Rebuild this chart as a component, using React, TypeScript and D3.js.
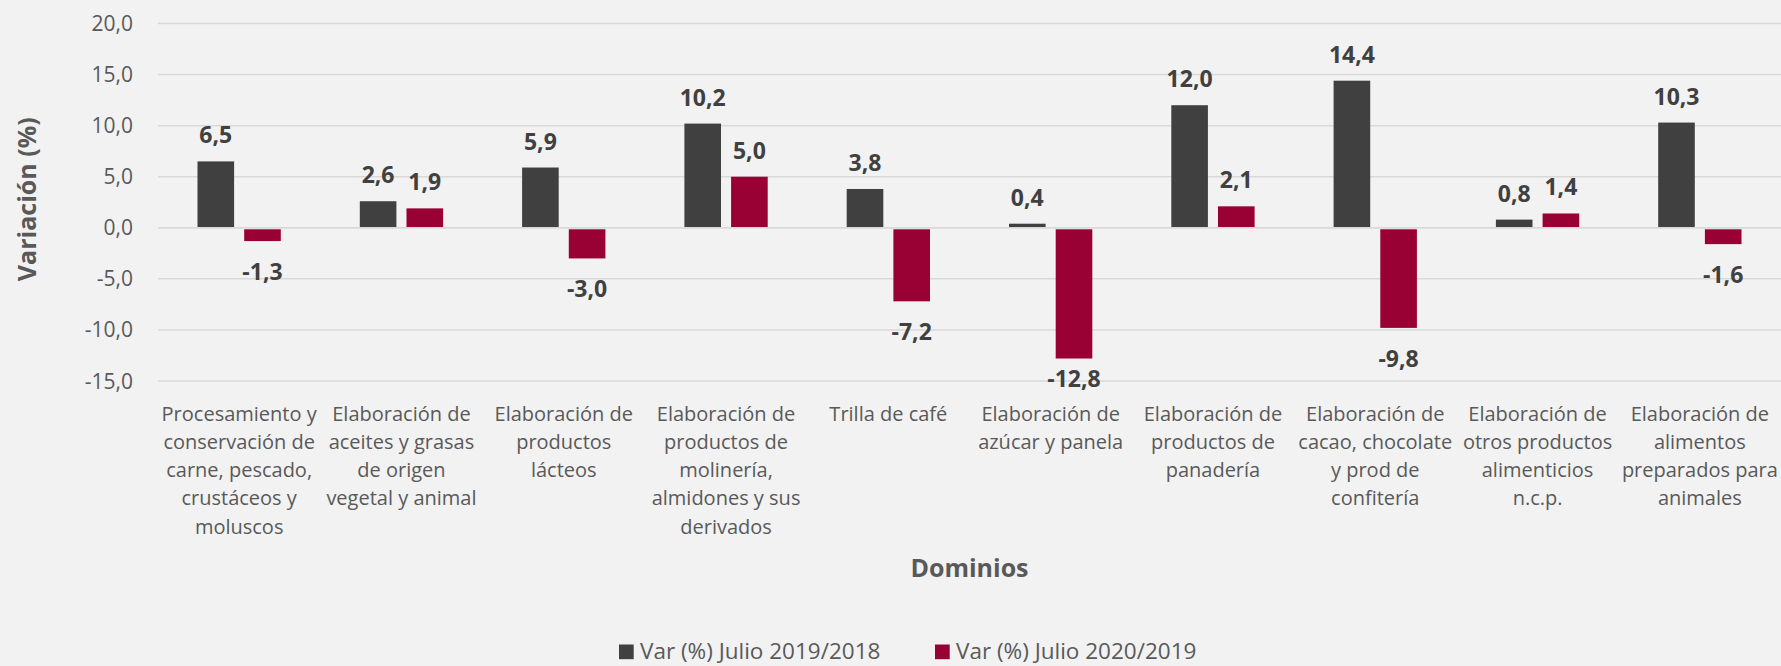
import * as d3 from "d3";
import React from "react";

// datos
const categorias = [
  ["Procesamiento y", "conservación de", "carne, pescado,", "crustáceos y", "moluscos"],
  ["Elaboración de", "aceites y grasas", "de origen", "vegetal y animal"],
  ["Elaboración de", "productos", "lácteos"],
  ["Elaboración de", "productos de", "molinería,", "almidones y sus", "derivados"],
  ["Trilla de café"],
  ["Elaboración de", "azúcar y panela"],
  ["Elaboración de", "productos de", "panadería"],
  ["Elaboración de", "cacao, chocolate", "y prod de", "confitería"],
  ["Elaboración de", "otros productos", "alimenticios", "n.c.p."],
  ["Elaboración de", "alimentos", "preparados para", "animales"],
];
const var2019 = [6.5, 2.6, 5.9, 10.2, 3.8, 0.4, 12.0, 14.4, 0.8, 10.3];
const var2020 = [-1.3, 1.9, -3.0, 5.0, -7.2, -12.8, 2.1, -9.8, 1.4, -1.6];
const series = ["Var (%) Julio 2019/2018", "Var (%) Julio 2020/2019"];
const ticksY = [-15, -10, -5, 0, 5, 10, 15, 20];

const width = 1781;
const height = 666;
const colores = ["#404040", "#990033"];
const fuente = "'Open Sans', 'Noto Sans', sans-serif";

const fmt = (v: number) => d3.format(".1f")(v).replace(".", ",").replace("−", "-");

export default function App() {
  const x0 = d3
    .scaleBand<number>()
    .domain(d3.range(categorias.length))
    .range([158, 1781])
    .paddingInner(0)
    .paddingOuter(0);

  // posición de las dos barras dentro de cada categoría
  const x1 = d3
    .scaleBand<number>()
    .domain([0, 1])
    .range([39.5, x0.bandwidth() - 39.5])
    .paddingInner(0.216);

  const y = d3.scaleLinear().domain([-15, 20]).range([381, 23.5]);

  const valores = [var2019, var2020];

  return (
    <div style={{ position: "absolute", left: 0, top: 0 }}>
      <svg width={width} height={height} style={{ display: "block", fontFamily: fuente }}>
        <rect x={0} y={0} width={width} height={height} fill="#f2f2f2" />

        {/* líneas de cuadrícula */}
        {ticksY.map((t) => (
          <line
            key={"g" + t}
            x1={158}
            x2={1781}
            y1={y(t)}
            y2={y(t)}
            stroke="#d9d9d9"
            strokeWidth={1.5}
          />
        ))}

        {/* etiquetas del eje y */}
        {ticksY.map((t) => (
          <text
            key={"t" + t}
            x={133}
            y={y(t)}
            dy="0.36em"
            textAnchor="end"
            fontSize={21}
            fill="#595959"
          >
            {fmt(t)}
          </text>
        ))}

        {/* barras */}
        {valores.map((serie, s) =>
          serie.map((v, i) => {
            const bx = (x0(i) as number) + (x1(s) as number);
            const top = v >= 0 ? y(v) : y(0) + 1.5;
            const h = v >= 0 ? y(0) - y(v) : y(v) - y(0) - 1.5;
            return (
              <rect
                key={"b" + s + "-" + i}
                x={bx}
                y={top}
                width={x1.bandwidth()}
                height={h}
                fill={colores[s]}
              />
            );
          })
        )}

        <line x1={158} x2={1781} y1={y(0)} y2={y(0)} stroke="#d9d9d9" strokeWidth={1.5} />

        {/* etiquetas de datos */}
        {valores.map((serie, s) =>
          serie.map((v, i) => {
            const cx = (x0(i) as number) + (x1(s) as number) + x1.bandwidth() / 2;
            const ly = v >= 0 ? y(v) - 18 : Math.min(y(v) + 39, 387);
            return (
              <text
                key={"l" + s + "-" + i}
                x={cx}
                y={ly}
                textAnchor="middle"
                fontSize={23}
                fontWeight="bold"
                fill="#404040"
              >
                {fmt(v)}
              </text>
            );
          })
        )}

        {/* etiquetas de categorías */}
        {categorias.map((lineas, i) => (
          <text
            key={"c" + i}
            x={(x0(i) as number) + x0.bandwidth() / 2}
            y={420.5}
            textAnchor="middle"
            fontSize={20}
            fill="#595959"
          >
            {lineas.map((l, k) => (
              <tspan key={k} x={(x0(i) as number) + x0.bandwidth() / 2} dy={k === 0 ? 0 : 28.3}>
                {l}
              </tspan>
            ))}
          </text>
        ))}

        {/* títulos de ejes */}
        <text
          transform={`translate(36, ${(y(20) + y(-15)) / 2 - 3}) rotate(-90)`}
          textAnchor="middle"
          fontSize={25}
          fontWeight="bold"
          fill="#595959"
        >
          Variación (%)
        </text>
        <text x={969.5} y={577} textAnchor="middle" fontSize={25} fontWeight="bold" fill="#595959">
          Dominios
        </text>

        {/* leyenda */}
        {series.map((nombre, s) => {
          const lx = s === 0 ? 619 : 935;
          return (
            <g key={"ley" + s}>
              <rect x={lx} y={644.5} width={14.7} height={14.7} fill={colores[s]} />
              <text x={lx + 21} y={659} fontSize={22.5} fill="#595959">
                {nombre}
              </text>
            </g>
          );
        })}
      </svg>
    </div>
  );
}
